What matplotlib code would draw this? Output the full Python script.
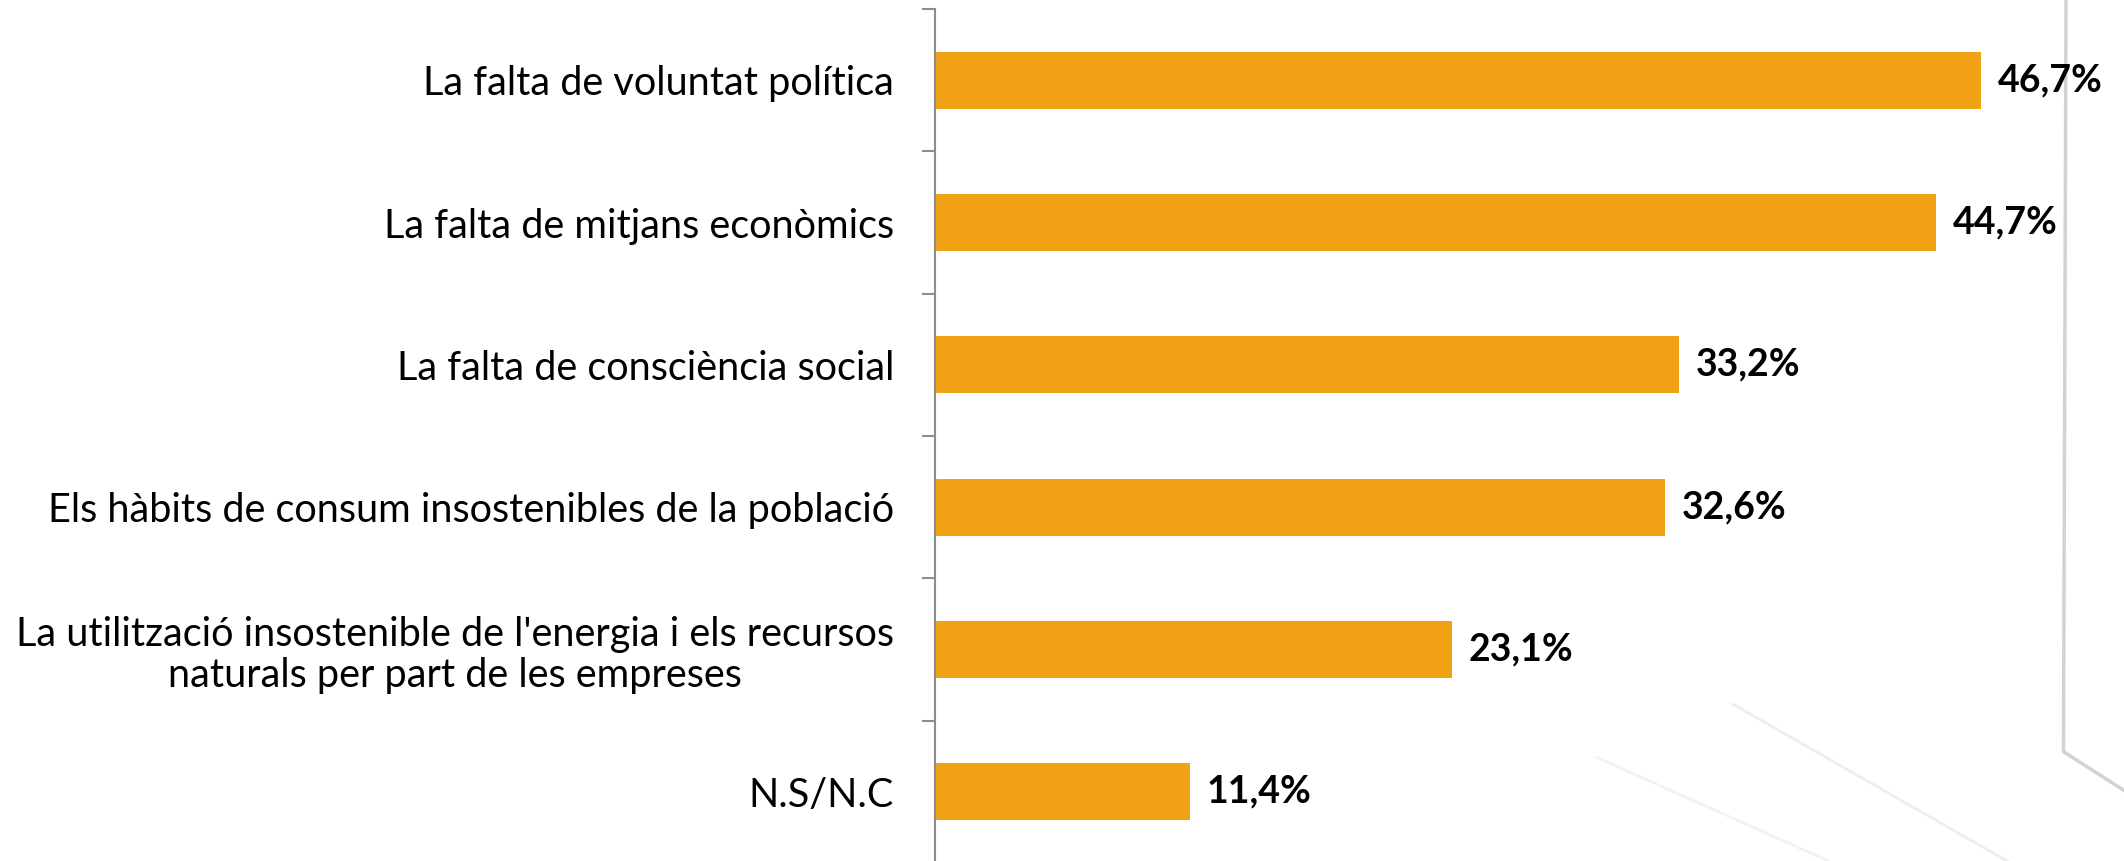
import numpy as np
import matplotlib.pyplot as plt
from matplotlib.lines import Line2D

categories = [
    "La falta de voluntat política",
    "La falta de mitjans econòmics",
    "La falta de consciència social",
    "Els hàbits de consum insostenibles de la població",
    "La utilització insostenible de l'energia i els recursos\nnaturals per part de les empreses",
    "N.S/N.C",
]
values = [46.7, 44.7, 33.2, 32.6, 23.1, 11.4]
value_labels = ["46,7%", "44,7%", "33,2%", "32,6%", "23,1%", "11,4%"]

bar_color = "#F0A214"
axis_color = "#8C8C8C"

plt.rcParams["font.family"] = ["Lato", "DejaVu Sans"]

fig = plt.figure(figsize=(21.24, 8.61), dpi=100)

# faint background strokes in the lower right corner
deco = [
    ([0.9727, 0.9715, 1.0], [1.0, 0.127, 0.082], "#D2D2D2", 2.5),
    ([0.816, 0.945], [0.182, 0.0], "#EEEEEE", 2.0),
    ([0.752, 0.861], [0.12, 0.0], "#F2F2F2", 2.0),
]
for xs, ys, c, lw in deco:
    fig.add_artist(Line2D(xs, ys, transform=fig.transFigure, color=c,
                          lw=lw, zorder=0))

ax = fig.add_axes([0.4402, -0.0023, 0.5273, 0.9918])
ax.patch.set_alpha(0)

y = np.arange(len(categories))
ax.barh(y, values, height=0.4, color=bar_color)

for yi, v, lab in zip(y, values, value_labels):
    ax.annotate(lab, (v, yi), xytext=(12, 0), textcoords="offset points",
                va="center", ha="left", fontsize=27, fontweight="bold",
                color="black")

ax.set_xlim(0, 50)
ax.set_ylim(len(categories) - 0.5, -0.5)

ax.set_yticks(y)
ax.set_yticklabels(categories, fontsize=28.5, linespacing=1.12)
for t in ax.get_yticklabels():
    t.set_multialignment("center")
ax.tick_params(axis="y", which="major", length=0, pad=29.5)
ax.set_yticks(np.arange(-0.5, len(categories), 1.0), minor=True)
ax.tick_params(axis="y", which="minor", length=9.4, width=1.5,
               color=axis_color, direction="out")

ax.set_xticks([])
for side in ["top", "right", "bottom"]:
    ax.spines[side].set_visible(False)
ax.spines["left"].set_color(axis_color)
ax.spines["left"].set_linewidth(1.5)

fig.savefig("out.png", dpi=100)
plt.close(fig)
